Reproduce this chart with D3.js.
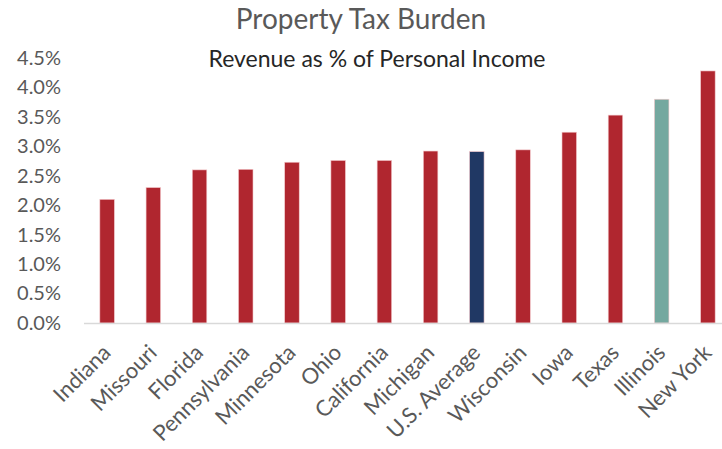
<!DOCTYPE html>
<html>
<head>
<meta charset="utf-8">
<script src="https://cdn.jsdelivr.net/npm/d3@7"></script>
<style>
  body { margin: 0; background: #fff; }
  text { font-family: Lato, "Open Sans", sans-serif; }
</style>
</head>
<body>
<div id="container"></div>
<script>
// chart values
const states = ['Indiana', 'Missouri', 'Florida', 'Pennsylvania', 'Minnesota', 'Ohio', 'California',
                'Michigan', 'U.S. Average', 'Wisconsin', 'Iowa', 'Texas', 'Illinois', 'New York'];
const burden = [0.0210, 0.0230, 0.0260, 0.0261, 0.0273, 0.0276, 0.0276,
                0.0292, 0.0291, 0.0294, 0.0324, 0.0353, 0.0380, 0.0428];
const yTicks = [0, 0.005, 0.01, 0.015, 0.02, 0.025, 0.03, 0.035, 0.04, 0.045];

const width = 722, height = 449;
const colorFor = s => s === 'U.S. Average' ? '#203864' : s === 'Illinois' ? '#74a89f' : '#b0262f';

const x = d3.scaleBand().domain(states).range([84, 731]).paddingInner(0.686).paddingOuter(0.343);
const y = d3.scaleLinear().domain([0, 0.045]).range([323, 58]);

const svg = d3.create('svg').attr('width', width).attr('height', height);

svg.append('text')
    .attr('x', 361).attr('y', 29)
    .attr('text-anchor', 'middle')
    .attr('font-size', 28)
    .attr('fill', '#595959')
    .text('Property Tax Burden');

svg.append('text')
    .attr('x', 377).attr('y', 67)
    .attr('text-anchor', 'middle')
    .attr('font-size', 23)
    .attr('fill', '#262626')
    .text('Revenue as % of Personal Income');

// y axis labels only
const yAxis = svg.append('g').attr('transform', 'translate(84,0)')
    .call(d3.axisLeft(y).tickValues(yTicks).tickFormat(d3.format('.1%')).tickSize(0).tickPadding(23));
yAxis.select('.domain').remove();
yAxis.selectAll('text').attr('font-size', 20).attr('fill', '#595959').attr('font-family', 'Lato, sans-serif');

// bars
svg.append('g').selectAll('rect').data(states).join('rect')
    .attr('x', d => x(d))
    .attr('width', x.bandwidth())
    .attr('y', (d, i) => y(burden[i]))
    .attr('height', (d, i) => y(0) - y(burden[i]))
    .attr('fill', d => colorFor(d))
    .attr('stroke', '#f3c9cc')
    .attr('stroke-width', 0.6);

// baseline
svg.append('line')
    .attr('x1', 84).attr('x2', width)
    .attr('y1', y(0) + 0.5).attr('y2', y(0) + 0.5)
    .attr('stroke', '#d9d9d9').attr('stroke-width', 1.5);

// category labels, rotated
svg.append('g').selectAll('text').data(states).join('text')
    .attr('transform', d => `translate(${x(d) + x.bandwidth() / 2 + 5},${354}) rotate(-45)`)
    .attr('text-anchor', 'end')
    .attr('font-size', 22)
    .attr('fill', '#595959')
    .text(d => d);

container.append(svg.node());
</script>
</body>
</html>
